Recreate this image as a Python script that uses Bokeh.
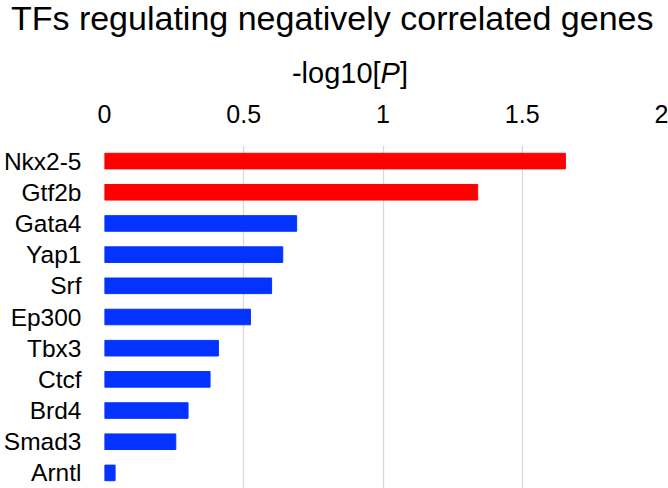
from bokeh.plotting import figure
from bokeh.models import ColumnDataSource, FactorRange, Range1d, LinearAxis, FixedTicker, Grid
from bokeh.core.properties import value
from bokeh.embed import file_html
from bokeh.resources import INLINE

# ---- data ----
tfs = ["Nkx2-5", "Gtf2b", "Gata4", "Yap1", "Srf", "Ep300", "Tbx3", "Ctcf", "Brd4", "Smad3", "Arntl"]
neg_log10_p = [1.655, 1.340, 0.690, 0.640, 0.600, 0.524, 0.409, 0.379, 0.300, 0.256, 0.038]
bar_colors = ["#FF0000", "#FF0000", "#0433FF", "#0433FF", "#0433FF", "#0433FF",
              "#0433FF", "#0433FF", "#0433FF", "#0433FF", "#0433FF"]
tick_values = [0, 0.5, 1, 1.5, 2]
tick_labels = ["0", "0.5", "1", "1.5", "2"]
title_text = "TFs regulating negatively correlated genes"
axis_label_parts = ["-log10[", "P", "]"]
axis_label_styles = ["normal", "italic", "normal"]

FONT = "Liberation Sans"
W = 668
HEADER_H = 100
MAIN_H = 488 - HEADER_H
BORDER_L = 103
BORDER_R = 7

# ---- header (title + axis label), own root so its frame spans the full width ----
hdr = figure(width=W, height=HEADER_H, output_backend="svg", toolbar_location=None,
             title_location=None,
             x_range=Range1d(0, W), y_range=Range1d(HEADER_H, 0),
             x_axis_location=None, y_axis_location=None,
             min_border_left=0, min_border_right=0, min_border_top=0, min_border_bottom=0)
hdr.outline_line_color = None
hdr.xgrid.visible = False
hdr.ygrid.visible = False

hdr.text(x=[331.7], y=[17], text=[title_text], text_font=value(FONT), text_font_size="34px",
         text_align="center", text_baseline="alphabetic", text_color="black")

lab_fs = 29
part_w = [3.057 * lab_fs, 0.667 * lab_fs, 0.278 * lab_fs]
x0 = 291.4
xs = []
for w in part_w:
    xs.append(x0)
    x0 += w
for xp, t, st in zip(xs, axis_label_parts, axis_label_styles):
    hdr.text(x=[xp], y=[72], text=[t], text_font=value(FONT), text_font_size=f"{lab_fs}px",
             text_font_style=st, text_align="left", text_baseline="alphabetic", text_color="black")

# ---- main bar chart ----
source = ColumnDataSource(dict(tf=tfs, val=neg_log10_p, color=bar_colors))

p = figure(width=W, height=MAIN_H, output_backend="svg", toolbar_location=None,
           title_location=None,
           y_range=FactorRange(factors=list(reversed(tfs))),
           x_range=Range1d(0, 2), x_axis_location=None,
           min_border_left=BORDER_L, min_border_right=BORDER_R, min_border_top=45, min_border_bottom=0)
p.outline_line_color = None
p.xgrid.visible = False
p.ygrid.visible = False

grid = Grid(dimension=0, ticker=FixedTicker(ticks=tick_values),
            grid_line_color="#D9D9D9", grid_line_width=1.3)
p.add_layout(grid)

p.hbar(y="tf", right="val", height=0.5, color="color", source=source)

xaxis = LinearAxis(ticker=FixedTicker(ticks=tick_values),
                   major_label_overrides={v: s for v, s in zip(tick_values, tick_labels)})
xaxis.axis_line_color = None
xaxis.major_tick_line_color = None
xaxis.minor_tick_line_color = None
xaxis.major_tick_out = 0
xaxis.major_tick_in = 0
xaxis.major_label_text_font = FONT
xaxis.major_label_text_font_size = "25px"
xaxis.major_label_text_color = "black"
xaxis.major_label_standoff = 23
p.add_layout(xaxis, "above")

yaxis = p.yaxis[0]
yaxis.axis_line_color = None
yaxis.major_tick_line_color = None
yaxis.minor_tick_line_color = None
yaxis.major_tick_out = 0
yaxis.major_tick_in = 0
yaxis.major_label_text_font = FONT
yaxis.major_label_text_font_size = "24.5px"
yaxis.major_label_text_color = "black"
yaxis.major_label_standoff = 23

open("out.html", "w").write(file_html([hdr, p], INLINE))
